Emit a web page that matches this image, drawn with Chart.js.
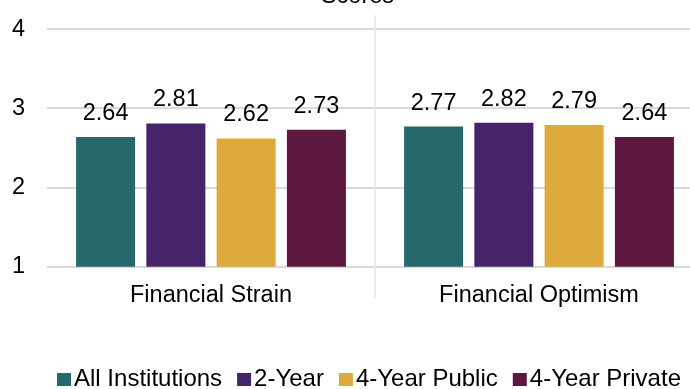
<!DOCTYPE html>
<html>
<head>
<meta charset="utf-8">
<script src="https://cdn.jsdelivr.net/npm/chart.js@4/dist/chart.umd.min.js"></script>
<style>
  html, body { margin: 0; padding: 0; background: #fff; overflow: hidden; width: 690px; height: 389px; }
  #wrap { position: absolute; left: 0; top: -30px; width: 742px; height: 419px; }
</style>
</head>
<body>
<div id="wrap"><canvas id="c" width="742" height="419"></canvas></div>
<script>
// Mean scores by institution type
const categories = ['Financial Strain', 'Financial Optimism'];
const seriesNames = ['All Institutions', '2-Year', '4-Year Public', '4-Year Private'];
const allInstitutions = [2.64, 2.77];
const twoYear = [2.81, 2.82];
const fourYearPublic = [2.62, 2.79];
const fourYearPrivate = [2.73, 2.64];
const yTicks = [1, 2, 3, 4];
const seriesColors = ['#26686C', '#45246A', '#DDAA3B', '#5D1840'];

const FONT = '"Liberation Sans", Arial, sans-serif';
const FSIZE = 23.5;
const LEGEND_FSIZE = 24;

const seriesValues = [allInstitutions, twoYear, fourYearPublic, fourYearPrivate];

// Vertical divider between the two category groups
const dividerPlugin = {
  id: 'divider',
  beforeDatasetsDraw(chart) {
    const x = chart.scales.x;
    const area = chart.chartArea;
    const ctx = chart.ctx;
    ctx.save();
    ctx.strokeStyle = '#ecece2';
    ctx.lineWidth = 2;
    for (let i = 0; i < categories.length - 1; i++) {
      const px = (x.getPixelForValue(i) + x.getPixelForValue(i + 1)) / 2;
      ctx.beginPath();
      ctx.moveTo(px, area.top - 14);
      ctx.lineTo(px, area.bottom + 31);
      ctx.stroke();
    }
    ctx.restore();
  }
};

// Value labels above each bar
const valueLabelPlugin = {
  id: 'valueLabels',
  afterDatasetsDraw(chart) {
    const ctx = chart.ctx;
    ctx.save();
    ctx.font = FSIZE + 'px ' + FONT;
    ctx.fillStyle = '#000';
    ctx.textAlign = 'center';
    ctx.textBaseline = 'alphabetic';
    chart.data.datasets.forEach((ds, di) => {
      chart.getDatasetMeta(di).data.forEach((el, i) => {
        ctx.fillText(ds.data[i].toFixed(2), el.x, el.y - 17);
      });
    });
    ctx.restore();
  }
};

// Compact legend along the bottom
const bottomLegendPlugin = {
  id: 'bottomLegend',
  afterDraw(chart) {
    const ctx = chart.ctx;
    const box = 14, gapText = 3, gapItem = 15;
    ctx.save();
    ctx.font = LEGEND_FSIZE + 'px ' + FONT;
    const items = chart.data.datasets.map(ds => ({
      text: ds.label, color: ds.backgroundColor, w: ctx.measureText(ds.label).width
    }));
    let total = 0;
    items.forEach((it, i) => { total += box + gapText + it.w + (i < items.length - 1 ? gapItem : 0); });
    let x = chart.width / 2 - 2 - total / 2;
    const baseline = chart.height - 3;
    ctx.textBaseline = 'alphabetic';
    ctx.textAlign = 'left';
    items.forEach(it => {
      ctx.fillStyle = it.color;
      ctx.fillRect(x, baseline - 13, box, box - 1);
      x += box + gapText;
      ctx.fillStyle = '#000';
      ctx.fillText(it.text, x, baseline);
      x += it.w + gapItem;
    });
    ctx.restore();
  }
};

new Chart(document.getElementById('c'), {
  type: 'bar',
  data: {
    labels: categories,
    datasets: seriesNames.map((name, i) => ({
      label: name,
      data: seriesValues[i],
      backgroundColor: seriesColors[i],
      borderWidth: 0,
      categoryPercentage: 0.857,
      barPercentage: 0.84
    }))
  },
  options: {
    responsive: false,
    animation: false,
    devicePixelRatio: 1,
    layout: { padding: { left: 12, right: 39, top: 0, bottom: 64 } },
    plugins: {
      legend: { display: false },
      tooltip: { enabled: false },
      title: {
        display: true,
        text: 'Scores',
        color: '#000',
        font: { family: FONT, size: FSIZE, weight: 'normal' },
        padding: { top: 12, bottom: 19 }
      }
    },
    scales: {
      x: {
        grid: { display: false, drawTicks: false },
        border: { display: false },
        ticks: { padding: 15, color: '#000', font: { family: FONT, size: FSIZE } }
      },
      y: {
        min: 1,
        max: 4,
        afterBuildTicks: axis => { axis.ticks = yTicks.map(v => ({ value: v })); },
        afterFit: axis => { axis.width = 35; },
        grid: { color: '#d9d9d9', lineWidth: 2, drawTicks: false },
        border: { display: false },
        ticks: { padding: 22, color: '#000', font: { family: FONT, size: FSIZE } }
      }
    }
  },
  plugins: [dividerPlugin, valueLabelPlugin, bottomLegendPlugin]
});
</script>
</body>
</html>
